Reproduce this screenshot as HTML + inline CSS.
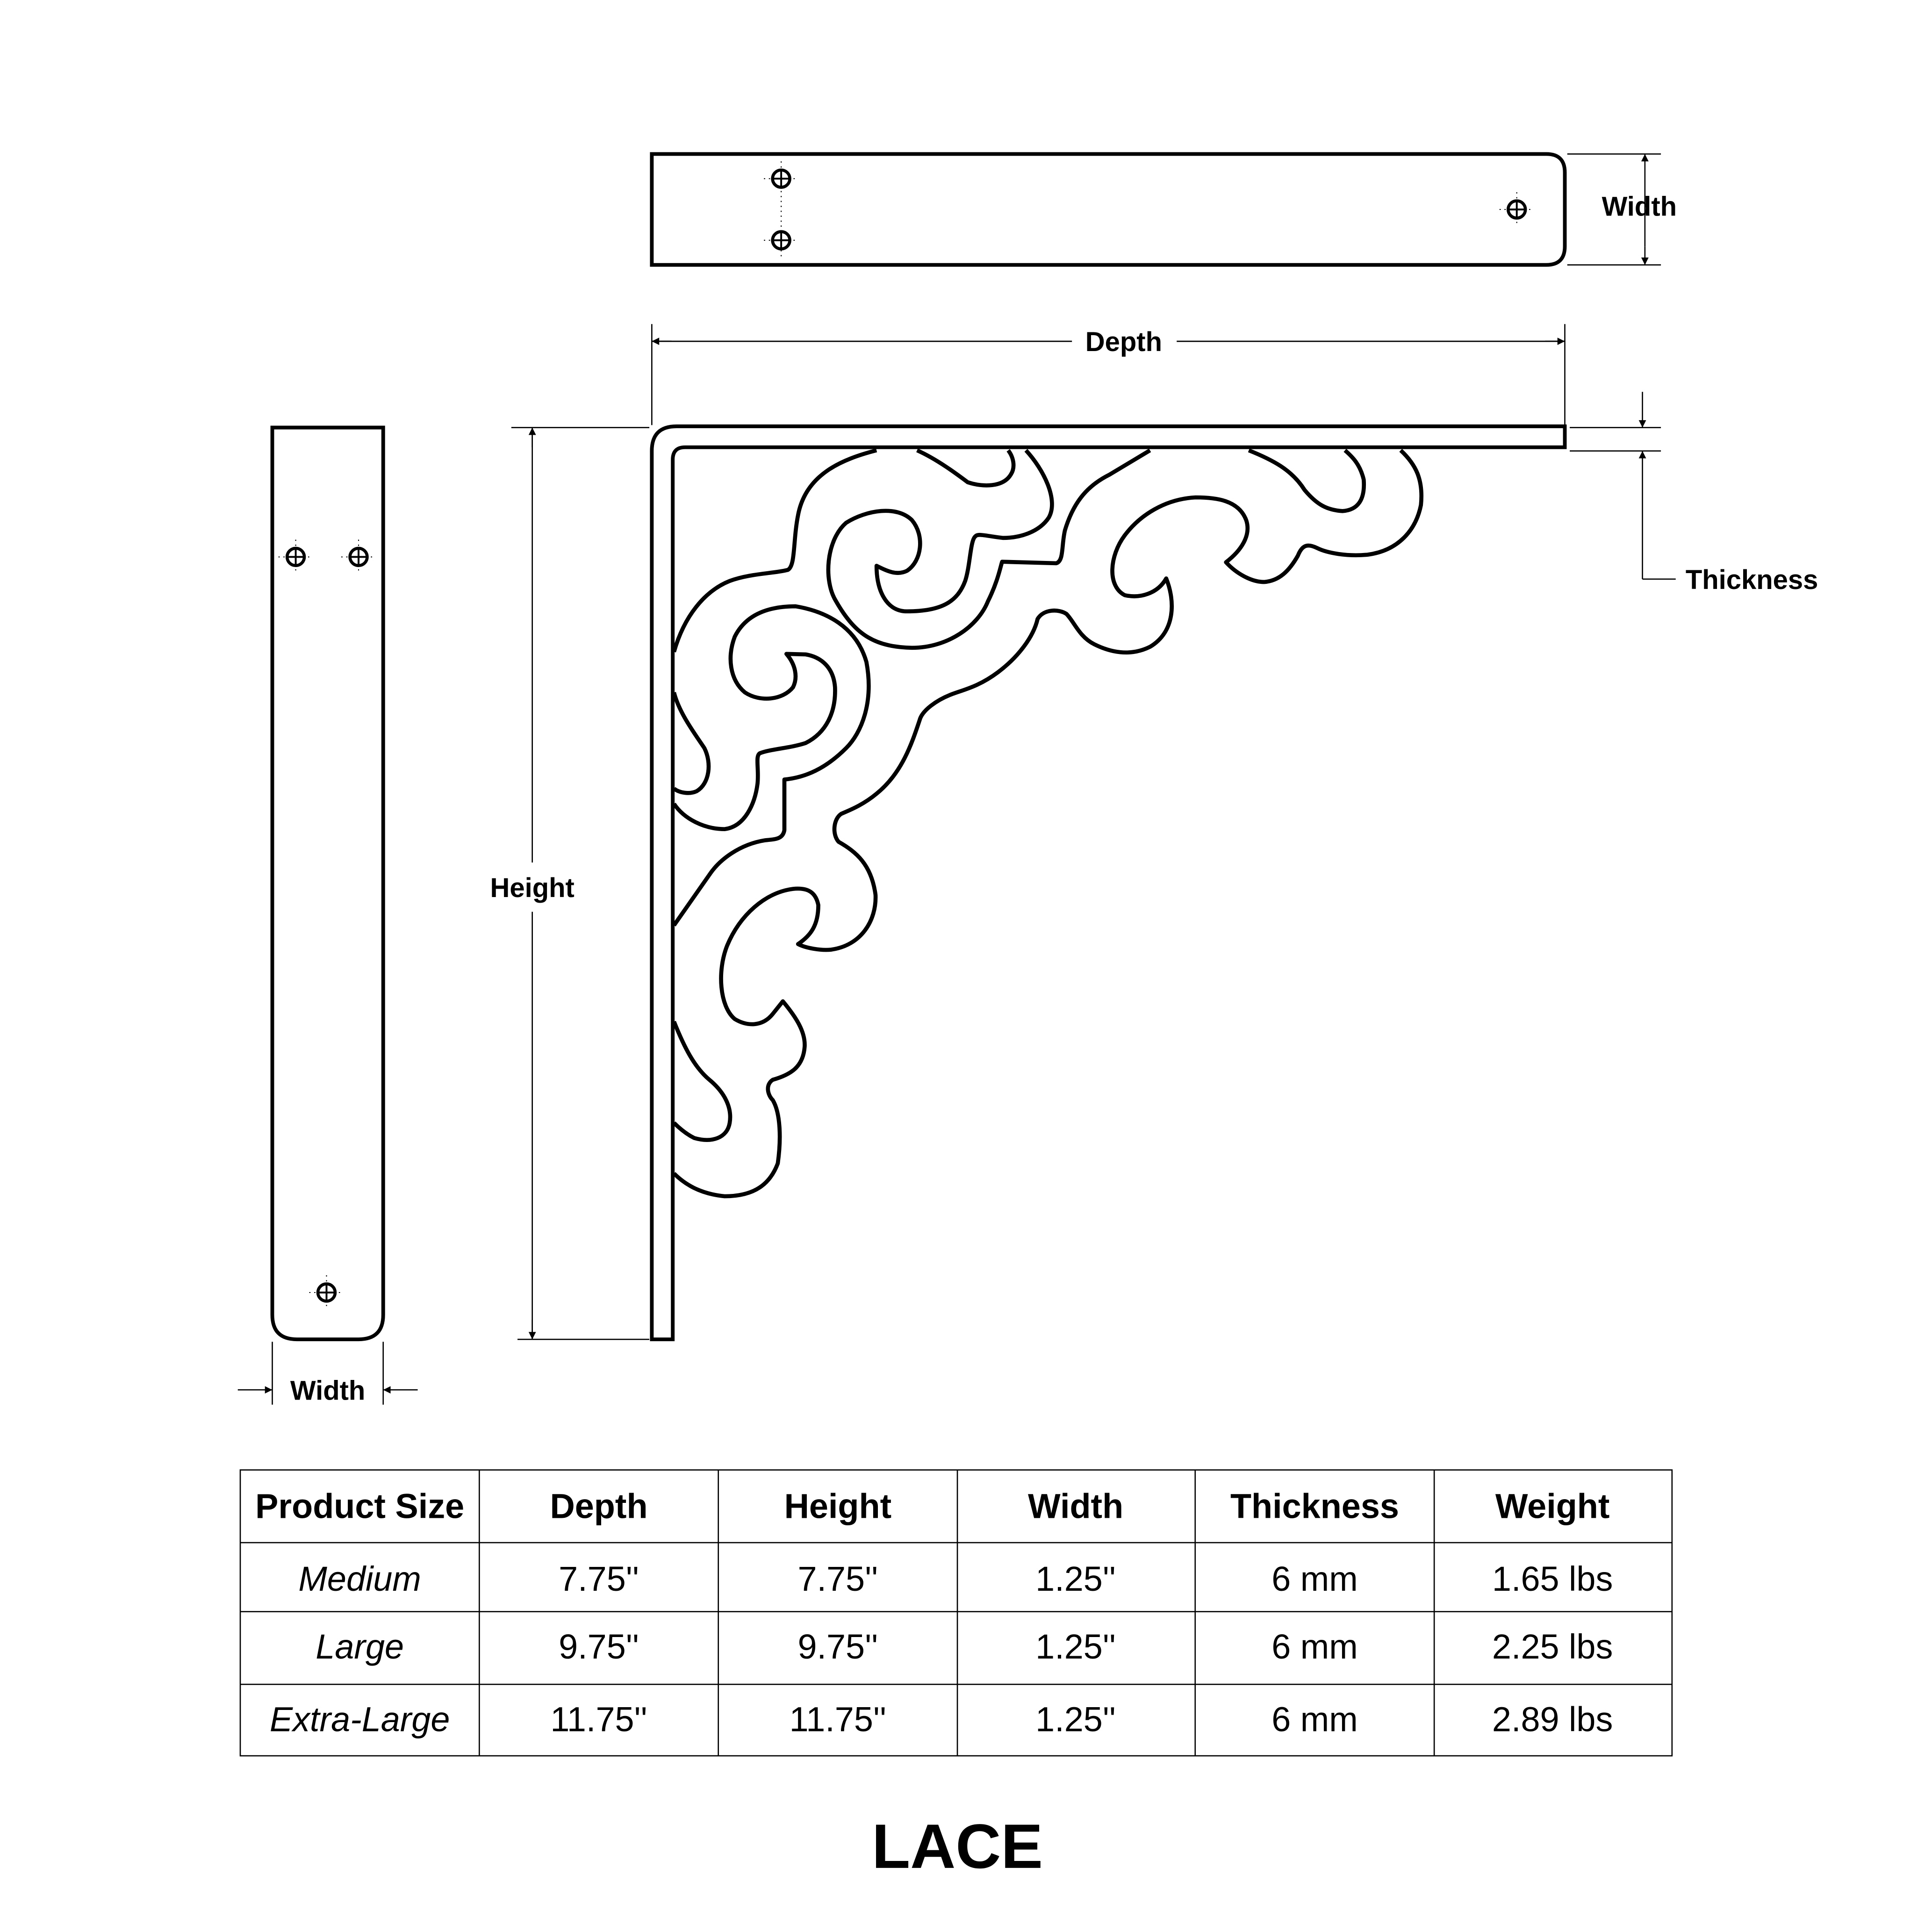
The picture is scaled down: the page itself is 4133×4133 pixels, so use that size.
<!DOCTYPE html>
<html><head><meta charset="utf-8"><style>
html,body{margin:0;padding:0;background:#fff}
svg{display:block}
text{font-family:"Liberation Sans",sans-serif;fill:#000}
</style></head><body>
<svg width="4133" height="4133" viewBox="0 0 1568 1568" xmlns="http://www.w3.org/2000/svg">
<rect width="1568" height="1568" fill="#fff"/>
<defs>
<marker id="ar" viewBox="0 0 10 10" refX="10" refY="5" markerWidth="9" markerHeight="6" orient="auto-start-reverse" markerUnits="userSpaceOnUse"><path d="M0,0 L10,5 L0,10 z" fill="#000"/></marker>
</defs>
<g fill="none" stroke="#000">
<path d="M529,125 H1255 Q1270,125 1270,140 V200 Q1270,215 1255,215 H529 Z" stroke-width="3"/>
<path d="M221,347 H311 V1067 Q311,1087 291,1087 H241 Q221,1087 221,1067 Z" stroke-width="3"/>
<path d="M1270,346 V363 H556 Q546,363 546,373 V1087 H529 V366 Q529,346 549,346 Z" stroke-width="3"/>
</g>
<g fill="none" stroke="#000" stroke-width="2.5">
<circle cx="634" cy="145" r="7"/><circle cx="634" cy="195" r="7"/><circle cx="1231" cy="170" r="7"/>
<circle cx="240" cy="452" r="7"/><circle cx="291" cy="452" r="7"/><circle cx="265" cy="1049" r="7"/>
</g>
<g stroke="#000" stroke-width="1.5">
<path d="M627,145h14M634,138v14M627,195h14M634,188v14M1224,170h14M1231,163v14M233,452h14M240,445v14M284,452h14M291,445v14M258,1049h14M265,1042v14"/>
</g>
<g stroke="#000" stroke-width="0.8" stroke-dasharray="1,3">
<path d="M620,145h28M620,195h28M1217,170h28M226,452h28M277,452h28M251,1049h28M634,131v78M1231,156v28M240,438v28M291,438v28M265,1035v28"/>
</g>
<g stroke="#000" stroke-width="1" fill="none">
<path d="M1272,125H1348M1272,215H1348"/>
<path d="M1335,140V125" marker-end="url(#ar)"/><path d="M1335,200V215" marker-end="url(#ar)"/>
<path d="M1335,140V200"/>
<path d="M529,263V345M1270,263V345"/>
<path d="M529,277H870M955,277H1270"/>
<path d="M545,277H529" marker-end="url(#ar)"/><path d="M1254,277H1270" marker-end="url(#ar)"/>
<path d="M1274,347H1348M1274,366H1348"/>
<path d="M1333,318V347" marker-end="url(#ar)"/><path d="M1333,470V366" marker-end="url(#ar)"/>
<path d="M1333,470H1360"/>
<path d="M415,347H527M420,1087H527"/>
<path d="M432,347V700M432,740V1087"/>
<path d="M432,363V347" marker-end="url(#ar)"/><path d="M432,1071V1087" marker-end="url(#ar)"/>
<path d="M221,1089V1140M311,1089V1140"/>
<path d="M193,1128H221" marker-end="url(#ar)"/><path d="M339,1128H311" marker-end="url(#ar)"/>
</g>
<g font-weight="bold" font-size="22">
<text x="1300" y="175">Width</text>
<text x="912" y="285" text-anchor="middle">Depth</text>
<text x="1368" y="478">Thickness</text>
<text x="432" y="728" text-anchor="middle">Height</text>
<text x="266" y="1136" text-anchor="middle">Width</text>
</g>
<g transform="translate(547,340) scale(0.411)" fill="none" stroke="#000" stroke-width="8" stroke-linejoin="round">
<path d="M400,62 C330,80 260,110 245,190 C235,240 240,290 225,298 C200,305 150,305 110,320 C60,340 20,390 0,460"/>
<path d="M480,62 C520,80 560,110 580,125 C610,135 650,135 665,110 C675,95 670,75 660,62"/>
<path d="M695,62 C730,100 760,160 740,195 C720,225 680,235 650,235 C620,232 600,225 595,232 C585,240 585,290 575,320 C560,360 530,380 460,380 C420,380 400,340 400,290 C420,300 440,310 460,300 C490,280 495,230 470,200 C440,170 380,180 340,205 C300,240 295,320 320,360 C360,430 400,450 470,452 C540,452 600,410 620,360 C640,320 645,290 648,282 L755,285 C770,280 765,250 772,220 C790,160 820,130 860,110 L940,62"/>
<path d="M1135,62 C1180,80 1220,100 1245,140 C1270,170 1290,180 1320,182 C1350,180 1365,160 1362,120 C1355,90 1340,75 1325,62"/>
<path d="M1435,62 C1465,90 1480,120 1475,170 C1465,220 1430,260 1370,268 C1330,272 1290,265 1270,255 C1250,245 1240,250 1232,270 C1215,300 1195,320 1165,322 C1140,322 1110,305 1090,283 C1120,260 1140,230 1130,200 C1115,160 1070,155 1030,155 C970,158 920,190 890,230 C860,270 855,330 890,348 C920,355 955,345 972,315 C990,360 990,420 940,450 C900,470 860,460 830,445 C800,430 790,400 775,385 C760,375 730,375 718,395 C710,430 680,470 640,500 C600,530 570,535 545,545 C520,555 490,575 485,595 C470,640 450,700 400,740 C370,765 340,775 330,780 C315,790 312,820 325,835 C360,855 390,880 398,940 C400,990 370,1040 310,1048 C290,1050 260,1045 245,1037 C270,1020 285,1000 285,960 C280,935 265,925 235,928 C180,935 130,980 105,1040 C85,1090 90,1160 120,1185 C145,1200 175,1200 195,1175 L215,1150 C240,1180 260,1210 258,1240 C255,1280 230,1295 195,1305 C180,1315 185,1335 195,1345 C210,1370 212,1420 205,1470 C190,1510 160,1535 100,1535 C50,1530 20,1510 0,1490"/>
<path d="M0,540 C10,580 40,620 60,650 C75,680 70,720 45,735 C30,742 10,738 0,730"/>
<path d="M0,760 C20,790 60,810 100,810 C140,805 160,760 165,720 C168,690 160,665 170,660 C190,652 230,650 260,640 C300,620 320,580 318,530 C315,490 290,470 260,465 L222,464 C240,485 245,510 235,530 C215,555 170,560 140,540 C110,515 105,470 120,430 C140,390 180,370 240,370 C300,380 360,410 380,480 C395,560 370,620 340,650 C300,690 260,708 218,712 L218,812 C215,830 200,830 180,832 C130,840 90,870 70,900 L0,1000"/>
<path d="M0,1190 C20,1240 40,1280 70,1305 C100,1330 115,1360 110,1390 C105,1420 75,1430 40,1420 C20,1410 5,1395 0,1390"/>
</g>
<g stroke="#000" stroke-width="1" fill="none">
<rect x="195" y="1193" width="1162" height="232"/>
<path d="M389,1193V1425M583,1193V1425M777,1193V1425M970,1193V1425M1164,1193V1425M195,1252H1357M195,1308H1357M195,1367H1357"/>
</g>
<g font-size="28" text-anchor="middle">
<g font-weight="bold">
<text x="292" y="1232">Product Size</text><text x="486" y="1232">Depth</text><text x="680" y="1232">Height</text><text x="873" y="1232">Width</text><text x="1067" y="1232">Thickness</text><text x="1260" y="1232">Weight</text>
</g>
<g font-style="italic">
<text x="292" y="1291">Medium</text><text x="292" y="1346">Large</text><text x="292" y="1405">Extra-Large</text>
</g>
<text x="486" y="1291">7.75''</text><text x="680" y="1291">7.75''</text><text x="873" y="1291">1.25''</text><text x="1067" y="1291">6 mm</text><text x="1260" y="1291">1.65 lbs</text>
<text x="486" y="1346">9.75''</text><text x="680" y="1346">9.75''</text><text x="873" y="1346">1.25''</text><text x="1067" y="1346">6 mm</text><text x="1260" y="1346">2.25 lbs</text>
<text x="486" y="1405">11.75''</text><text x="680" y="1405">11.75''</text><text x="873" y="1405">1.25''</text><text x="1067" y="1405">6 mm</text><text x="1260" y="1405">2.89 lbs</text>
</g>
<text x="777" y="1516" font-size="51" font-weight="bold" text-anchor="middle">LACE</text>
</svg>
</body></html>
